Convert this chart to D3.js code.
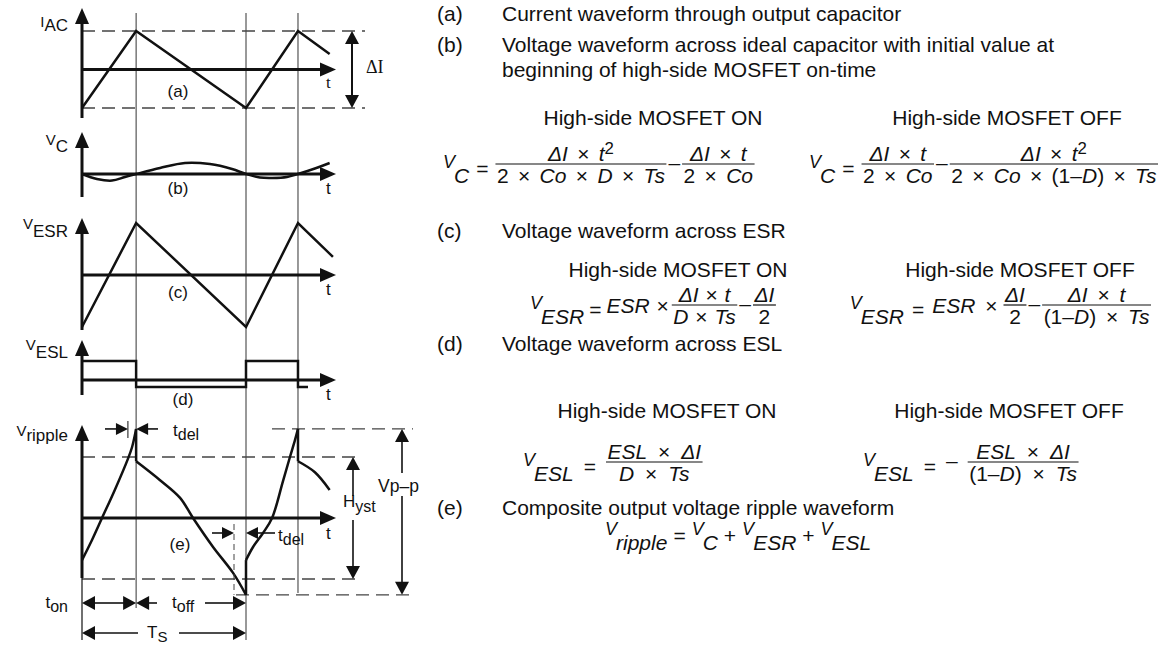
<!DOCTYPE html>
<html>
<head>
<meta charset="utf-8">
<script src="https://cdn.jsdelivr.net/npm/d3@7"></script>
<style>
  body { margin: 0; background: #fff; }
  svg { display: block; }
  text { font-family: "Liberation Sans", Arial, Helvetica, sans-serif; fill: #111; white-space: pre; }
  .serif { font-family: "Liberation Serif", "Times New Roman", serif; }
</style>
</head>
<body>
<svg id="fig" width="1166" height="647"></svg>
<script>
// time is in fractions of one switching period Ts
const switchT = [0.33, 1, 1.317];

// (a) capacitor current, in units of dI/2
const iacT = [0, 0.33, 1, 1.317, 1.51];
const iacV = [-1, 1, -1, 1, 0.4];

// (b) ideal capacitor voltage
const vcT = [0, 0.091, 0.183, 0.262, 0.33, 0.476, 0.628, 0.78, 0.915, 1, 1.085, 1.16, 1.25, 1.317, 1.42, 1.51];
const vcV = [0, -0.45, -0.6, -0.27, 0, 0.55, 1, 0.9, 0.45, 0, -0.32, -0.36, -0.27, 0, 0.5, 1];

// (c) ESR voltage
const esrT = [0, 0.33, 1, 1.317, 1.53];
const esrV = [-1, 1, -1, 1, 0.35];

// (d) ESL voltage, steps
const eslT = [0, 0.33, 1, 1.317, 1.378];
const eslV = [1, -0.37, 1, -0.37, -0.37];

// (e) ripple, in units of Hyst/2, four smooth pieces
const rip1T = [0, 0.061, 0.122, 0.2, 0.28, 0.305, 0.33];
const rip1V = [-0.69, -0.36, 0, 0.46, 0.97, 1.16, 1.46];
const rip2T = [0.33, 0.476, 0.598, 0.677, 0.799, 0.921, 1];
const rip2V = [0.93, 0.62, 0.33, 0, -0.475, -0.9, -1.26];
const rip3T = [1, 1.043, 1.104, 1.159, 1.226, 1.268, 1.299, 1.317];
const rip3V = [-0.69, -0.475, -0.246, 0, 0.61, 1, 1.28, 1.46];
const rip4T = [1.317, 1.42, 1.51];
const rip4V = [0.93, 0.75, 0.46];
const ripPeak = 1.46, ripLow = -1.26;

const svg = d3.select("#fig");
const xS = d3.scaleLinear().domain([0, 1]).range([82, 246]);
const X0 = xS(0), xTip = 336;

const sA = d3.scaleLinear().domain([-1, 1]).range([108, 31]);
const sB = d3.scaleLinear().domain([-1, 1]).range([185, 163]);
const sC = d3.scaleLinear().domain([-1, 1]).range([327, 223]);
const sD = d3.scaleLinear().domain([0, 1]).range([380, 361]);
const sE = d3.scaleLinear().domain([-1, 1]).range([579, 457]);

const g = svg.append("g");

function head(x, y, dir, len, hw) {
  len = len || 13; hw = hw || 6;
  let p;
  if (dir === "up") p = [[x, y], [x - hw, y + len], [x + hw, y + len]];
  if (dir === "down") p = [[x, y], [x - hw, y - len], [x + hw, y - len]];
  if (dir === "left") p = [[x, y], [x + len, y - hw], [x + len, y + hw]];
  if (dir === "right") p = [[x, y], [x - len, y - hw], [x - len, y + hw]];
  g.append("path").attr("d", "M" + p.join("L") + "Z").attr("fill", "#111");
}

function seg(x1, y1, x2, y2, w, col, dash) {
  g.append("line").attr("x1", x1).attr("y1", y1).attr("x2", x2).attr("y2", y2)
    .attr("stroke", col || "#111").attr("stroke-width", w || 1)
    .attr("stroke-dasharray", dash || null);
}

// thin guide lines at the switching instants
const guideEnd = [608, 640, 593];
switchT.forEach((t, i) => seg(xS(t), 13, xS(t), guideEnd[i], 1, "#333"));

// dashed levels
const dash = "13,7";
seg(X0, sA(1), 365, sA(1), 1.3, "#444", dash);
seg(X0, sA(-1), 365, sA(-1), 1.3, "#444", dash);
seg(X0, sE(1), 358, sE(1), 1.3, "#444", dash);
seg(X0, sE(-1), 358, sE(-1), 1.3, "#444", dash);
seg(272, sE(ripPeak), 413, sE(ripPeak), 1.3, "#444", dash);
seg(236, sE(ripLow), 413, sE(ripLow), 1.3, "#444", dash);

// axes
function axes(ys, yTop, yBot) {
  seg(X0, yBot, X0, yTop + 8, 3);
  head(X0, yTop, "up", 16, 7);
  seg(X0, ys(0), xTip - 8, ys(0), 3);
  head(xTip, ys(0), "right", 16, 7);
}
axes(sA, 8, 118);
axes(sB, 132, 197);
axes(sC, 218, 330);
axes(sD, 340, 395);
axes(sE, 425, 578);
seg(X0, 578, X0, 640, 1.2);

// waveforms
function wave(ys, T, V, curve) {
  const line = d3.line().x(d => xS(d[0])).y(d => ys(d[1])).curve(curve || d3.curveLinear);
  g.append("path").datum(d3.zip(T, V)).attr("d", line)
    .attr("fill", "none").attr("stroke", "#111").attr("stroke-width", 2.5)
    .attr("stroke-linejoin", "miter");
}
wave(sA, iacT, iacV);
wave(sB, vcT, vcV, d3.curveCatmullRom);
wave(sC, esrT, esrV);
wave(sD, eslT, eslV, d3.curveStepAfter);
const ripSegs = [[rip1T, rip1V], [rip2T, rip2V], [rip3T, rip3V], [rip4T, rip4V]];
ripSegs.forEach((s, i) => {
  wave(sE, s[0], s[1], d3.curveCatmullRom);
  if (i > 0) {
    const p = ripSegs[i - 1];
    wave(sE, [p[0][p[0].length - 1], s[0][0]], [p[1][p[1].length - 1], s[1][0]]);
  }
});

// text helpers
function label(x, y, main, sub, opts) {
  opts = opts || {};
  const t = g.append("text").attr("x", x).attr("y", y)
    .attr("text-anchor", opts.anchor || "end").attr("font-size", opts.size || 15);
  if (opts.serif) t.attr("class", "serif");
  t.append("tspan").text(main);
  if (sub) t.append("tspan").attr("dy", opts.dy || 6).attr("font-size", opts.subSize || 17).text(sub);
  return t;
}
label(68, 27, "I", "AC", { dy: 4 });
label(68, 145, "V", "C", { dy: 7 });
label(68, 229, "V", "ESR", { dy: 8 });
label(68, 350, "V", "ESL", { dy: 8 });
label(68, 436, "V", "ripple", { dy: 5 });

// t labels and panel letters
[[sA, 18], [sB, 20], [sC, 20], [sD, 20], [sE, 21]].forEach((p, i) => {
  const t = g.append("text").attr("x", 326).attr("y", p[0](0) + p[1]).attr("font-size", 17).text("t");
  if (i === 0) t.attr("class", "serif");
});
const panelTag = [["(a)", 178, 97], ["(b)", 178, 194], ["(c)", 178, 298], ["(d)", 183, 405], ["(e)", 180, 550]];
panelTag.forEach(d => g.append("text").attr("x", d[1]).attr("y", d[2])
  .attr("text-anchor", "middle").attr("font-size", 17).text(d[0]));

// dI dimension
seg(352, sA(1) + 10, 352, sA(-1) - 10, 2);
head(352, sA(1), "up", 13, 7);
head(352, sA(-1), "down", 13, 7);
g.append("text").attr("class", "serif").attr("x", 366).attr("y", 73).attr("font-size", 18).text("ΔI");

// Hyst dimension
seg(353, sE(1) + 10, 353, 496, 1.6);
seg(353, 520, 353, sE(-1) - 10, 1.6);
head(353, sE(1), "up", 13, 7);
head(353, sE(-1), "down", 13, 7);
label(343, 507, "H", "yst", { anchor: "start", size: 17, subSize: 16, dy: 5 });

// Vp-p dimension
seg(402, sE(ripPeak) + 10, 402, 473, 1.6);
seg(402, 496, 402, sE(ripLow) - 10, 1.6);
head(402, sE(ripPeak), "up", 13, 7);
head(402, sE(ripLow), "down", 13, 7);
g.append("text").attr("x", 378).attr("y", 492).attr("font-size", 17.5).text("Vp–p");

// t_del marks
const yDel1 = sE(ripPeak), yDel2 = 533;
seg(105, yDel1, 120, yDel1, 1.6); head(xS(0.28), yDel1, "right", 12, 6);
seg(xS(0.28), 421, xS(0.28), 438, 1);
seg(146, yDel1, 158, yDel1, 1.6); head(xS(0.33), yDel1, "left", 12, 6);
label(173, 436, "t", "del", { anchor: "start", size: 17, subSize: 16, dy: 4 });
seg(212, yDel2, 224, yDel2, 1.6); head(234, yDel2, "right", 12, 6);
seg(234, 524, 234, sE(ripLow), 1, "#444", "6,4");
seg(258, yDel2, 275, yDel2, 1.6); head(xS(1), yDel2, "left", 12, 6);
label(278, 541, "t", "del", { anchor: "start", size: 17, subSize: 16, dy: 4 });

// t_on, t_off, Ts dimensions
const yOn = 603, yTs = 633;
seg(X0 + 12, yOn, xS(0.33) - 12, yOn, 1.6);
head(X0, yOn, "left", 13, 7); head(xS(0.33), yOn, "right", 13, 7);
seg(xS(0.33) + 12, yOn, 157, yOn, 1.6); head(xS(0.33), yOn, "left", 13, 7);
seg(205, yOn, xS(1) - 12, yOn, 1.6); head(xS(1), yOn, "right", 13, 7);
label(68, 608, "t", "on", { size: 17, subSize: 16, dy: 4 });
label(172, 608, "t", "off", { anchor: "start", size: 17, subSize: 16, dy: 4 });
seg(X0 + 12, yTs, 138, yTs, 1.6); head(X0, yTs, "left", 13, 7);
seg(179, yTs, xS(1) - 12, yTs, 1.6); head(xS(1), yTs, "right", 13, 7);
label(147, 638, "T", "S", { anchor: "start", size: 17, subSize: 15, dy: 4 });

// ---------- right-hand text ----------
const bodySize = 21;
const bodyRows = [
  ["(a)", "Current waveform through output capacitor", 21],
  ["(b)", "Voltage waveform across ideal capacitor with initial value at", 52],
  ["", "beginning of high-side MOSFET on-time", 77],
  ["(c)", "Voltage waveform across ESR", 238],
  ["(d)", "Voltage waveform across ESL", 351],
  ["(e)", "Composite output voltage ripple waveform", 515]
];
bodyRows.forEach(r => {
  g.append("text").attr("x", 437).attr("y", r[2]).attr("font-size", bodySize).text(r[0]);
  g.append("text").attr("x", 502).attr("y", r[2]).attr("font-size", bodySize).text(r[1]);
});
const heads = [
  ["High-side MOSFET ON", 653, 125], ["High-side MOSFET OFF", 1007, 125],
  ["High-side MOSFET ON", 678, 277], ["High-side MOSFET OFF", 1020, 277],
  ["High-side MOSFET ON", 667, 418], ["High-side MOSFET OFF", 1009, 418]
];
heads.forEach(h => g.append("text").attr("x", h[1]).attr("y", h[2])
  .attr("text-anchor", "middle").attr("font-size", bodySize).text(h[0]));

// formulas: letters italic, '^' raises the next char
const fs = 21;
function rich(x, y, str, anchor, ws) {
  const t = g.append("text").attr("x", x).attr("y", y).attr("font-size", fs)
    .attr("text-anchor", anchor || "start").attr("word-spacing", ws);
  let runs = [], i = 0;
  while (i < str.length) {
    if (str[i] === "^") { runs.push({ s: str[i + 1], sup: true }); i += 2; continue; }
    const it = /[A-Za-zΔ]/.test(str[i]);
    const last = runs[runs.length - 1];
    if (last && !last.sup && last.it === it) last.s += str[i];
    else runs.push({ s: str[i], it: it });
    i++;
  }
  let up = false;
  runs.forEach(r => {
    const sp = t.append("tspan").text(r.s);
    if (r.sup) { sp.attr("font-size", fs * 0.8).attr("dy", -7); up = true; }
    else {
      if (r.it) sp.attr("font-style", "italic");
      if (up) { sp.attr("dy", 7); up = false; }
    }
  });
  return t;
}
function widthOf(sel) { return sel.node().getComputedTextLength(); }

// lays a formula out from x0 (or so that it ends at endX); ws = word spacing, gap = space between parts
function formula(x0, yb, items, opt) {
  opt = opt || {};
  const ws = opt.ws != null ? opt.ws : 3.5, gap = opt.gap != null ? opt.gap : 7;
  const f = g.append("g");
  let x = 0;
  const put = (sel) => { f.node().appendChild(sel.node()); return sel; };
  items.forEach(it => {
    if (it.sym) {
      const v = put(g.append("text").attr("x", x).attr("y", yb + 4).attr("font-size", 18)
        .attr("font-style", "italic").text("V"));
      const vw = widthOf(v);
      const s = put(g.append("text").attr("x", x + vw - 1).attr("y", yb + 19).attr("font-size", fs)
        .attr("font-style", "italic").text(it.sym));
      x += vw - 1 + widthOf(s) + gap;
    } else if (it.op) {
      const o = put(g.append("text").attr("x", x).attr("y", yb + (it.op === "–" ? 6 : 12))
        .attr("font-size", fs).text(it.op));
      x += widthOf(o) + (it.tight ? 2 : gap);
    } else if (it.txt) {
      const o = put(rich(x, yb + 8, it.txt, "start", ws));
      x += widthOf(o) + gap - 2;
    } else if (it.frac) {
      const n = put(rich(0, yb - 3, it.frac[0], "middle", ws));
      const d = put(rich(0, yb + 19, it.frac[1], "middle", ws));
      const w = Math.max(widthOf(n), widthOf(d)) + 3;
      n.attr("x", x + w / 2); d.attr("x", x + w / 2);
      f.append("line").attr("x1", x).attr("x2", x + w).attr("y1", yb).attr("y2", yb)
        .attr("stroke", "#111").attr("stroke-width", 1.2);
      x += w + (it.tight ? 2 : gap - 1);
    }
  });
  const start = opt.endX ? opt.endX - x : x0;
  f.attr("transform", `translate(${start},0)`);
}

formula(443, 164, [{ sym: "C" }, { op: "=" }, { frac: ["ΔI × t^2", "2 × Co × D × Ts"], tight: 1 },
  { op: "–", tight: 1 }, { frac: ["ΔI × t", "2 × Co"] }]);
formula(0, 164, [{ sym: "C" }, { op: "=" }, { frac: ["ΔI × t", "2 × Co"], tight: 1 },
  { op: "–", tight: 1 }, { frac: ["ΔI × t^2", "2 × Co × (1–D) × Ts"] }], { endX: 1164 });
formula(530, 305, [{ sym: "ESR" }, { op: "=" }, { txt: "ESR ×" }, { frac: ["ΔI × t", "D × Ts"], tight: 1 },
  { op: "–", tight: 1 }, { frac: ["ΔI", "2"] }], { ws: 1, gap: 5 });
formula(0, 305, [{ sym: "ESR" }, { op: "=" }, { txt: "ESR ×" }, { frac: ["ΔI", "2"], tight: 1 },
  { op: "–", tight: 1 }, { frac: ["ΔI × t", "(1–D) × Ts"] }], { endX: 1158, ws: 4, gap: 8 });
formula(523, 462, [{ sym: "ESL" }, { op: "=" }, { frac: ["ESL × ΔI", "D × Ts"] }], { ws: 5, gap: 10 });
formula(863, 462, [{ sym: "ESL" }, { op: "=" }, { op: "–" }, { frac: ["ESL × ΔI", "(1–D) × Ts"] }], { ws: 5, gap: 10 });
formula(605, 531, [{ sym: "ripple" }, { op: "=" }, { sym: "C" }, { op: "+" }, { sym: "ESR" }, { op: "+" }, { sym: "ESL" }], { gap: 6 });
</script>
</body>
</html>
